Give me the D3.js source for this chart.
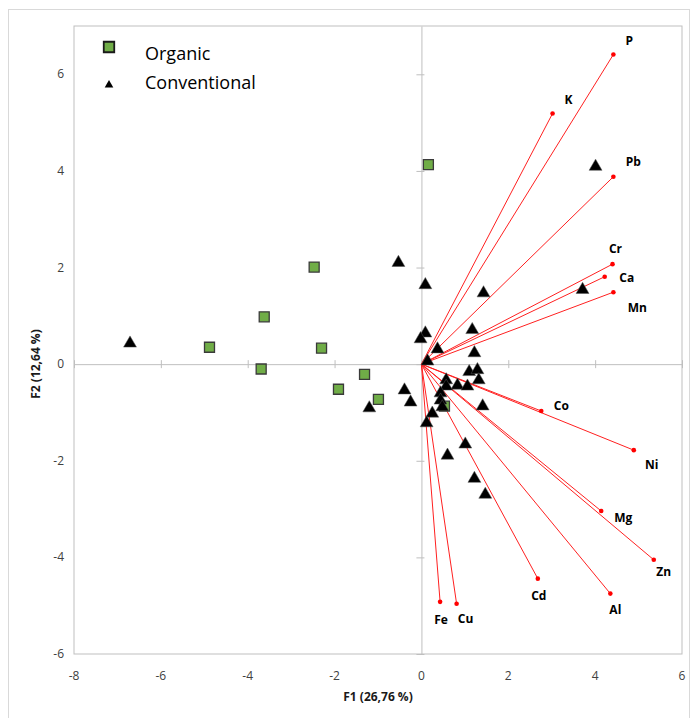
<!DOCTYPE html>
<html><head><meta charset="utf-8">
<script src="https://cdn.jsdelivr.net/npm/d3@7"></script>
<style>
body{margin:0;background:#fff;}
svg{display:block;font-family:"Open Sans","Liberation Sans",sans-serif;}
</style></head><body>
<svg id="c" width="691" height="718"></svg>
<script>
// ---- data ----
const xTicks = [-8,-6,-4,-2,0,2,4,6];
const yTicks = [-6,-4,-2,0,2,4,6];
const xTitle = "F1 (26,76 %)";
const yTitle = "F2 (12,64 %)";
const seriesNames = ["Organic","Conventional"];
const organicX = [0.16,-2.47,-3.62,-4.88,-2.30,-3.69,-1.91,-1.31,-0.99,0.53];
const organicY = [4.13,2.01,0.98,0.35,0.33,-0.10,-0.52,-0.21,-0.73,-0.87];
const conventionalX = [-6.71,-0.53,-1.20,-0.39,0.09,1.43,0.09,-0.02,0.37,1.17,0.14,1.22,1.10,1.29,1.32,0.57,0.83,1.06,0.57,0.44,0.44,0.48,-0.25,0.25,0.12,1.41,1.01,0.60,1.22,1.47,4.01,3.71];
const conventionalY = [0.43,2.10,-0.91,-0.54,1.64,1.47,0.64,0.52,0.31,0.71,0.06,0.23,-0.16,-0.12,-0.33,-0.33,-0.44,-0.46,-0.46,-0.60,-0.75,-0.89,-0.79,-1.02,-1.22,-0.87,-1.66,-1.89,-2.37,-2.70,4.09,1.54];
const variables = ["P","K","Pb","Cr","Ca","Mn","Co","Ni","Mg","Zn","Cd","Al","Fe","Cu"];
const varX = [4.42,3.02,4.42,4.40,4.22,4.42,2.76,4.89,4.14,5.35,2.68,4.35,0.43,0.81];
const varY = [6.41,5.19,3.88,2.07,1.81,1.49,-0.97,-1.78,-3.04,-4.05,-4.44,-4.75,-4.92,-4.96];

// ---- layout / style ----
const labelOffset = {P:[16,-14],K:[16,-14],Pb:[20,-15],Cr:[3,-16],Ca:[22,1],Mn:[24,15],
  Co:[20,-6],Ni:[18,14],Mg:[22,6],Zn:[10,12],Cd:[1,17],Al:[5,16],Fe:[1,18],Cu:[9,15]};
const svg = d3.select("#c");
const x = d3.scaleLinear().domain([-8,6]).range([74,682]);
const y = d3.scaleLinear().domain([-6,7]).range([654,26]);
const grey = "#bfbfbf";

// outer frame
svg.append("rect").attr("x",8.5).attr("y",9.5).attr("width",681).attr("height",720)
  .attr("fill","none").attr("stroke","#d9d9d9");

// plot box
svg.append("rect").attr("x",x(-8)).attr("y",y(7)).attr("width",x(6)-x(-8)).attr("height",y(-6)-y(7))
  .attr("fill","none").attr("stroke",grey);

// zero axes with ticks
const xAxis = d3.axisBottom(x).tickValues(xTicks).tickSize(0).tickFormat("");
const gx = svg.append("g").attr("transform",`translate(0,${y(0)})`).call(xAxis);
gx.select(".domain").attr("stroke",grey);
gx.selectAll(".tick line").remove();
gx.selectAll(".tick").append("line").attr("y1",-4).attr("y2",4).attr("stroke",grey);
const yAxis = d3.axisLeft(y).tickValues(yTicks).tickSize(0).tickFormat("");
const gy = svg.append("g").attr("transform",`translate(${x(0)},0)`).call(yAxis);
gy.select(".domain").attr("stroke",grey);
gy.selectAll(".tick line").remove();
gy.selectAll(".tick").append("line").attr("x1",-5).attr("x2",3).attr("stroke",grey);

// tick labels on box edges
svg.append("g").selectAll("text").data(xTicks).join("text")
  .attr("x",d=>x(d)).attr("y",680).attr("text-anchor","middle")
  .attr("font-size",12).attr("fill","#404040").text(d=>d);
svg.append("g").selectAll("text").data(yTicks).join("text")
  .attr("x",64).attr("y",d=>y(d)+4).attr("text-anchor","end")
  .attr("font-size",12).attr("fill","#404040").text(d=>d);

// axis titles
svg.append("text").attr("x",378).attr("y",701).attr("text-anchor","middle")
  .attr("font-size",12).attr("font-weight","bold").attr("fill","#1a1a1a").text(xTitle);
svg.append("text").attr("transform","translate(40,364) rotate(-90)").attr("text-anchor","middle")
  .attr("font-size",12).attr("font-weight","bold").attr("fill","#1a1a1a").text(yTitle);

// vectors
const vars = variables.map((n,i)=>({n,x:varX[i],y:varY[i]}));
svg.append("g").selectAll("line").data(vars).join("line")
  .attr("x1",x(0)).attr("y1",y(0)).attr("x2",d=>x(d.x)).attr("y2",d=>y(d.y))
  .attr("stroke","#ff2020").attr("stroke-width",1);
svg.append("g").selectAll("circle").data(vars).join("circle")
  .attr("cx",d=>x(d.x)).attr("cy",d=>y(d.y)).attr("r",2.3).attr("fill","#ff0000");

// organic squares
const sq = d3.symbol().type(d3.symbolSquare).size(100);
svg.append("g").selectAll("path").data(organicX.map((v,i)=>[v,organicY[i]])).join("path")
  .attr("d",sq).attr("transform",d=>`translate(${x(d[0])},${y(d[1])})`)
  .attr("fill","#70ad47").attr("stroke","#3a3a3a").attr("stroke-width",1.3);

// conventional triangles
const tri = d3.symbol().type(d3.symbolTriangle).size(72);
svg.append("g").selectAll("path").data(conventionalX.map((v,i)=>[v,conventionalY[i]])).join("path")
  .attr("d",tri).attr("transform",d=>`translate(${x(d[0])},${y(d[1])})`)
  .attr("fill","#000").attr("stroke","#555").attr("stroke-width",0.5);

// variable labels
svg.append("g").selectAll("text").data(vars).join("text")
  .attr("x",d=>x(d.x)+labelOffset[d.n][0]).attr("y",d=>y(d.y)+labelOffset[d.n][1]+4.5)
  .attr("text-anchor","middle").attr("font-size",12).attr("font-weight","bold")
  .attr("fill","#000").text(d=>d.n);

// legend
const lg = svg.append("g");
lg.append("path").attr("d",d3.symbol().type(d3.symbolSquare).size(110))
  .attr("transform","translate(109,47)").attr("fill","#70ad47").attr("stroke","#1a1a1a").attr("stroke-width",1.8);
lg.append("path").attr("d",d3.symbol().type(d3.symbolTriangle).size(32))
  .attr("transform","translate(109,85)").attr("fill","#000");
lg.append("text").attr("x",145).attr("y",60).attr("font-size",18).attr("fill","#000").text(seriesNames[0]);
lg.append("text").attr("x",145).attr("y",89).attr("font-size",18).attr("fill","#000").text(seriesNames[1]);
</script></body></html>
